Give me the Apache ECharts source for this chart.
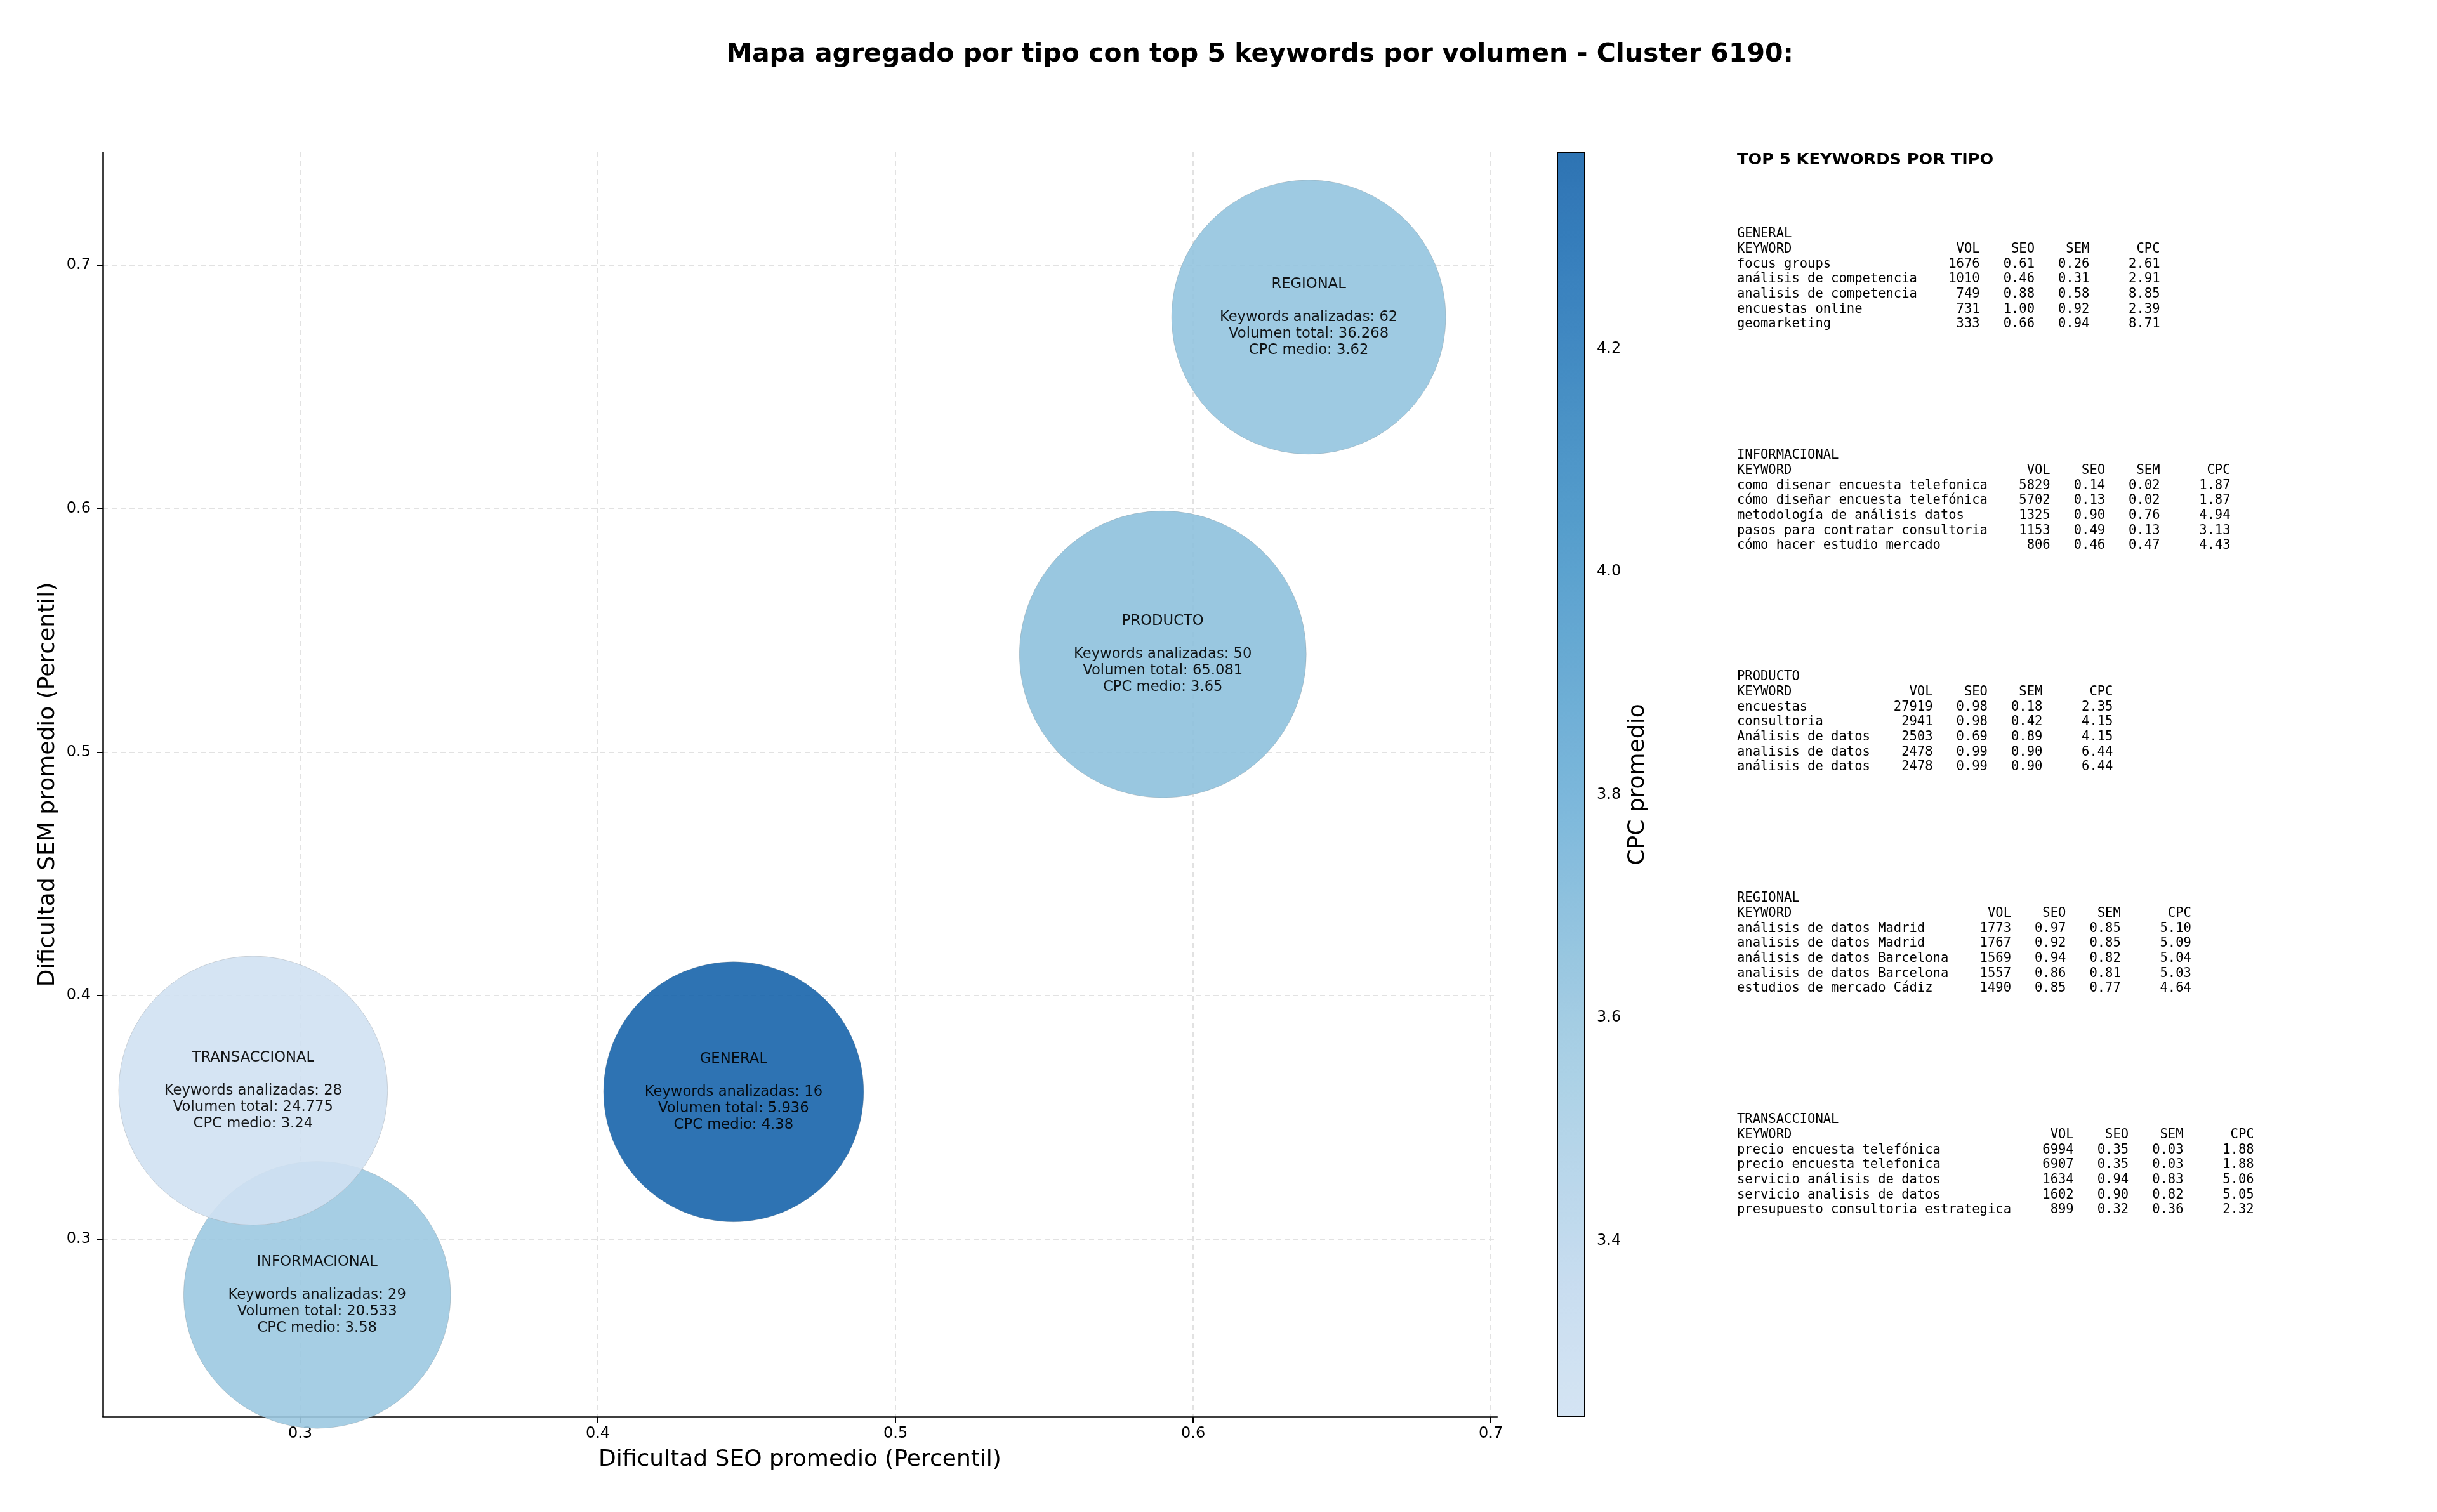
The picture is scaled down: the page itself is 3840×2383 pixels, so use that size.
<!DOCTYPE html>
<html><head><meta charset="utf-8">
<script src="https://cdn.jsdelivr.net/npm/echarts@6/dist/echarts.min.js"></script>
<style>html,body{margin:0;padding:0;background:#fff}#c{width:3840px;height:2383px}</style>
</head><body><div id="c"></div>
<script>
// ---- data ----
const tipos = ['GENERAL', 'INFORMACIONAL', 'PRODUCTO', 'REGIONAL', 'TRANSACCIONAL'];
const seoPromedio = [0.4456, 0.3057, 0.5898, 0.6388, 0.2842];
const semPromedio = [0.3605, 0.2771, 0.5402, 0.6787, 0.3610];
const cpcMedio = [4.376, 3.58, 3.65, 3.62, 3.242];
const volumenTotal = [5936, 20533, 65081, 36268, 24775];
const keywordsAnalizadas = [16, 29, 50, 62, 28];
const xTicks = [0.3, 0.4, 0.5, 0.6, 0.7];
const yTicks = [0.3, 0.4, 0.5, 0.6, 0.7];
const cbTicks = [3.4, 3.6, 3.8, 4.0, 4.2];

const topGeneral = [
  ['focus groups', 1676, 0.61, 0.26, 2.61],
  ['análisis de competencia', 1010, 0.46, 0.31, 2.91],
  ['analisis de competencia', 749, 0.88, 0.58, 8.85],
  ['encuestas online', 731, 1.00, 0.92, 2.39],
  ['geomarketing', 333, 0.66, 0.94, 8.71]
];
const topInformacional = [
  ['como disenar encuesta telefonica', 5829, 0.14, 0.02, 1.87],
  ['cómo diseñar encuesta telefónica', 5702, 0.13, 0.02, 1.87],
  ['metodología de análisis datos', 1325, 0.90, 0.76, 4.94],
  ['pasos para contratar consultoria', 1153, 0.49, 0.13, 3.13],
  ['cómo hacer estudio mercado', 806, 0.46, 0.47, 4.43]
];
const topProducto = [
  ['encuestas', 27919, 0.98, 0.18, 2.35],
  ['consultoria', 2941, 0.98, 0.42, 4.15],
  ['Análisis de datos', 2503, 0.69, 0.89, 4.15],
  ['analisis de datos', 2478, 0.99, 0.90, 6.44],
  ['análisis de datos', 2478, 0.99, 0.90, 6.44]
];
const topRegional = [
  ['análisis de datos Madrid', 1773, 0.97, 0.85, 5.10],
  ['analisis de datos Madrid', 1767, 0.92, 0.85, 5.09],
  ['análisis de datos Barcelona', 1569, 0.94, 0.82, 5.04],
  ['analisis de datos Barcelona', 1557, 0.86, 0.81, 5.03],
  ['estudios de mercado Cádiz', 1490, 0.85, 0.77, 4.64]
];
const topTransaccional = [
  ['precio encuesta telefónica', 6994, 0.35, 0.03, 1.88],
  ['precio encuesta telefonica', 6907, 0.35, 0.03, 1.88],
  ['servicio análisis de datos', 1634, 0.94, 0.83, 5.06],
  ['servicio analisis de datos', 1602, 0.90, 0.82, 5.05],
  ['presupuesto consultoria estrategica', 899, 0.32, 0.36, 2.32]
];
const tablas = [topGeneral, topInformacional, topProducto, topRegional, topTransaccional];

// ---- helpers ----
const FONT = '"DejaVu Sans", Verdana, sans-serif';
const MONO = '"DejaVu Sans Mono", "Liberation Mono", monospace';
const BLUES = ['#f7fbff','#deebf7','#c6dbef','#9ecae1','#6baed6','#4292c6','#2171b5','#08519c','#08306b'];
function hex2rgb(h){return [parseInt(h.substr(1,2),16),parseInt(h.substr(3,2),16),parseInt(h.substr(5,2),16)];}
function blues(t){
  const p = t*8; const i = Math.min(7, Math.floor(p)); const f = p - i;
  const a = hex2rgb(BLUES[i]), b = hex2rgb(BLUES[i+1]);
  return a.map((v,k)=>v + (b[k]-v)*f);
}
const ALPHA = 0.9;
const cmap = [], cmapBlend = [];
for (let k = 0; k <= 30; k++) {
  const c = blues(0.2 + 0.6*k/30);
  cmap.push('rgb(' + c.map(Math.round).join(',') + ')');
  cmapBlend.push('rgb(' + c.map(v=>Math.round(v*ALPHA + 255*(1-ALPHA))).join(',') + ')');
}
function miles(n){return String(n).replace(/\B(?=(\d{3})+(?!\d))/g, '.');}
function tableText(title, rows){
  const w = Math.max(...rows.map(r=>r[0].length));
  const lines = [title, 'KEYWORD'.padEnd(w) + 'VOL'.padStart(8) + 'SEO'.padStart(7) + 'SEM'.padStart(7) + 'CPC'.padStart(9)];
  rows.forEach(r=>lines.push(r[0].padEnd(w) + String(r[1]).padStart(8) + r[2].toFixed(2).padStart(7) + r[3].toFixed(2).padStart(7) + r[4].toFixed(2).padStart(9)));
  return lines.join('\n');
}
const cpcMin = Math.min(...cpcMedio), cpcMax = Math.max(...cpcMedio);

const graphics = [
  {type:'text', x:1985, y:86, style:{text:'Mapa agregado por tipo con top 5 keywords por volumen - Cluster 6190:', fontFamily:FONT, fontSize:41, fontWeight:'bold', fill:'#000', align:'center', verticalAlign:'middle'}},
  {type:'text', x:2737, y:252, style:{text:'TOP 5 KEYWORDS POR TIPO', fontFamily:FONT, fontSize:25.6, fontWeight:'bold', fill:'#000', align:'left', verticalAlign:'middle'}}
];
tipos.forEach((t,i)=>{
  graphics.push({type:'text', x:2737, y:357 + 349*i, style:{text:tableText(t, tablas[i]), fontFamily:MONO, fontSize:20.5, lineHeight:23.7, fill:'#000', align:'left', verticalAlign:'top'}});
});

const chart = echarts.init(document.getElementById('c'), null, {renderer:'canvas'});
chart.setOption({
  animation:false,
  backgroundColor:'#fff',
  textStyle:{fontFamily:FONT},
  grid:[
    {left:162, right:1481, top:240, bottom:150, containLabel:false},
    {left:2454, top:240, width:43, height:1993, show:true, borderColor:'#000', borderWidth:2, backgroundColor:'transparent', z:10}
  ],
  xAxis:[
    {type:'value', gridIndex:0, min:0.2337, max:0.7021,
     name:'Dificultad SEO promedio (Percentil)', nameLocation:'middle', nameGap:50,
     nameTextStyle:{fontSize:36, color:'#000', fontFamily:FONT},
     axisLine:{show:true, onZero:false, lineStyle:{color:'#000', width:2.5}},
     axisTick:{show:true, length:9, customValues:xTicks, lineStyle:{color:'#000', width:2}},
     axisLabel:{fontSize:24, color:'#000', margin:15, customValues:xTicks, formatter:v=>(+v).toFixed(1), fontFamily:FONT},
     splitLine:{show:true, lineStyle:{color:'#e2e2e2', width:2, type:[8,6]}}},
    {type:'value', gridIndex:1, show:false, min:0, max:1}
  ],
  yAxis:[
    {type:'value', gridIndex:0, min:0.227, max:0.7464,
     name:'Dificultad SEM promedio (Percentil)', nameLocation:'middle', nameGap:68,
     nameTextStyle:{fontSize:36, color:'#000', fontFamily:FONT},
     axisLine:{show:true, onZero:false, lineStyle:{color:'#000', width:2.5}},
     axisTick:{show:true, length:9, customValues:yTicks, lineStyle:{color:'#000', width:2}},
     axisLabel:{fontSize:24, color:'#000', margin:19, customValues:yTicks, formatter:v=>(+v).toFixed(1), fontFamily:FONT},
     splitLine:{show:true, lineStyle:{color:'#e2e2e2', width:2, type:[8,6]}}},
    {type:'value', gridIndex:1, position:'right', min:cpcMin, max:cpcMax,
     name:'CPC promedio', nameLocation:'middle', nameGap:66,
     nameTextStyle:{fontSize:36, color:'#000', fontFamily:FONT},
     axisLine:{show:false},
     splitLine:{show:false},
     axisTick:{show:true, length:9, customValues:cbTicks, lineStyle:{color:'#000', width:2}},
     axisLabel:{fontSize:24, color:'#000', margin:19, customValues:cbTicks, formatter:v=>(+v).toFixed(1), fontFamily:FONT}}
  ],
  visualMap:{
    type:'continuous', min:cpcMin, max:cpcMax, dimension:2, seriesIndex:0,
    inRange:{color:cmap}, controller:{inRange:{color:cmapBlend}},
    left:2454, top:240, itemWidth:43, itemHeight:1993, padding:0, calculable:false,
    orient:'vertical', text:null, hoverLink:false
  },
  series:[{
    type:'scatter', xAxisIndex:0, yAxisIndex:0, clip:true,
    data: tipos.map((t,i)=>({name:t, value:[seoPromedio[i], semPromedio[i], cpcMedio[i], volumenTotal[i], keywordsAnalizadas[i]]})),
    encode:{x:0, y:1},
    symbol:'circle',
    symbolSize: v => 2*Math.sqrt(41117 + 0.153*v[3]),
    itemStyle:{opacity:ALPHA, borderColor:'rgba(128,128,128,0.3)', borderWidth:1},
    label:{show:true, position:'inside', color:'#000', fontFamily:FONT, fontSize:22.7, lineHeight:26,
      formatter: p => p.name + '\n\nKeywords analizadas: ' + p.value[4] + '\nVolumen total: ' + miles(p.value[3]) + '\nCPC medio: ' + p.value[2].toFixed(2)},
    emphasis:{disabled:true}
  }],
  graphic: graphics
});
</script></body></html>
